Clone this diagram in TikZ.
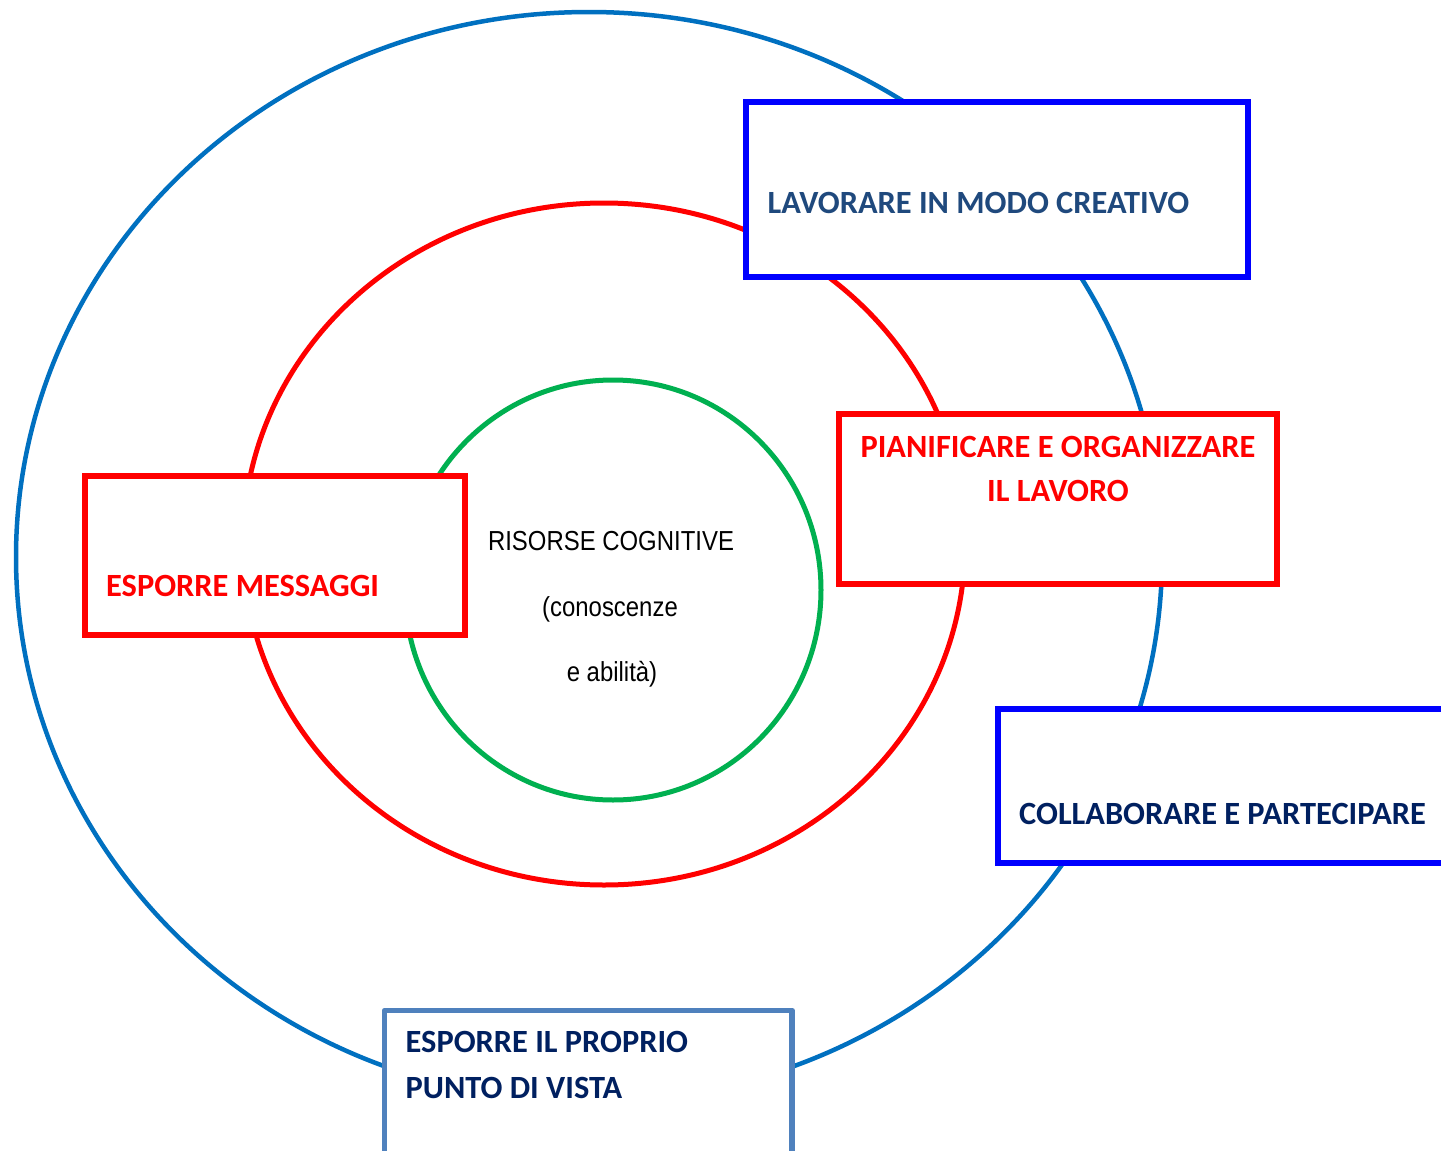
\documentclass[tikz,border=0pt]{standalone}
\usepackage{fontspec}
\newfontfamily\boxfont{Carlito}[BoldFont={Carlito Bold}]
\newfontfamily\cfont{Liberation Sans}[FakeStretch=0.87]
\definecolor{outerblue}{HTML}{0070C0}
\definecolor{ringred}{HTML}{FF0000}
\definecolor{ringgreen}{HTML}{00B050}
\definecolor{boxblue}{HTML}{0000FF}
\definecolor{steel}{HTML}{4F81BD}
\definecolor{navyA}{HTML}{1F497D}
\definecolor{navyB}{HTML}{002060}
\tikzset{
  frame/.style={draw=#1, fill=white, line width=6pt, anchor=north west, inner sep=0pt, outer sep=0pt},
  btxt/.style={inner sep=0pt, text=#1, font=\boxfont\bfseries\fontsize{32.4}{38}\selectfont},
  ctxt/.style={inner sep=0pt, anchor=base, font=\cfont\fontsize{27.5}{30}\selectfont},
}
\begin{document}
\begin{tikzpicture}[x=1pt,y=-1pt]
\useasboundingbox (0,0) rectangle (1441,1151);
\clip (0,0) rectangle (1441,1151);
\fill[white] (0,0) rectangle (1441,1151);
% rings
\draw[outerblue, line width=4.5pt] (589,557) ellipse [x radius=573, y radius=545];
\draw[ringred, line width=5pt] (604,544) ellipse [x radius=361, y radius=341];
\draw[ringgreen, line width=5pt] (613,590) ellipse [x radius=208, y radius=210];
% boxes
\node[frame=boxblue, minimum width=502pt, minimum height=175pt] (b1) at (746,102.3) {};
\node[frame=ringred, minimum width=438pt, minimum height=170pt] (b2) at (839,413.7) {};
\node[frame=ringred, minimum width=380pt, minimum height=159pt] (b3) at (85,475.7) {};
\node[frame=boxblue, minimum width=480pt, minimum height=153.5pt] (b4) at (998.3,709) {};
\node[frame=steel, line width=5.5pt, line join=round, minimum width=407.3pt, minimum height=200pt] (b5) at (384.7,1010.3) {};
% texts
\node[btxt=navyA, anchor=base west] (t1) at (767.5,213.3) {LAVORARE IN MODO CREATIVO};
\node[btxt=ringred, anchor=base] (t2a) at (1058,457.3) {PIANIFICARE E ORGANIZZARE};
\node[btxt=ringred, anchor=base] (t2b) at (1058,501.7) {IL LAVORO};
\node[btxt=ringred, anchor=base west] (t3) at (106,596.7) {ESPORRE MESSAGGI};
\node[btxt=navyB, anchor=base west] (t4) at (1019,824) {COLLABORARE E PARTECIPARE};
\node[btxt=navyB, anchor=base west] (t5a) at (405.5,1052.7) {ESPORRE IL PROPRIO};
\node[btxt=navyB, anchor=base west] (t5b) at (405.5,1098.3) {PUNTO DI VISTA};
\node[ctxt] (c1) at (611,550.7) {RISORSE COGNITIVE};
\node[ctxt] (c2) at (610,616) {(conoscenze};
\node[ctxt] (c3) at (612,681) {e abilità)};
\end{tikzpicture}
\end{document}
